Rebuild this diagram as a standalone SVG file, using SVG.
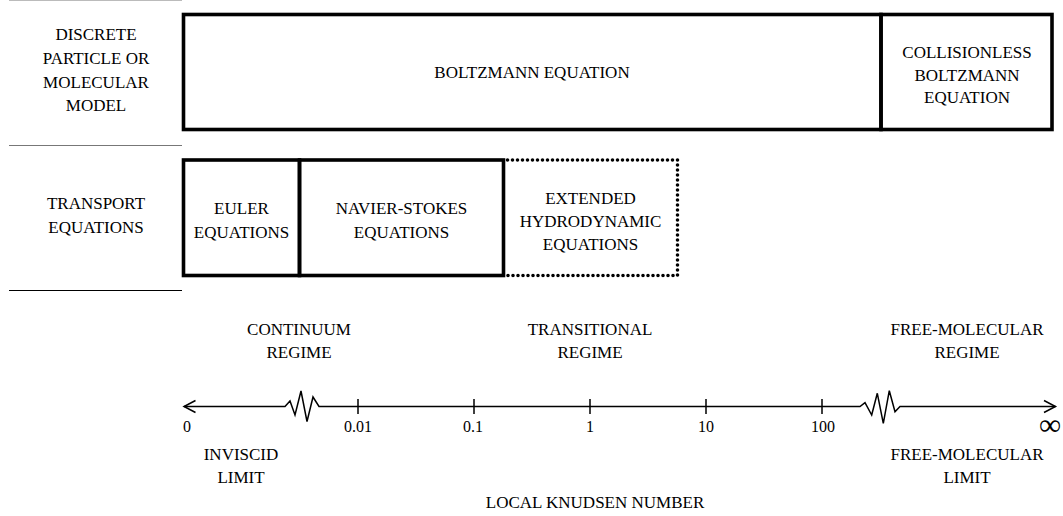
<svg xmlns="http://www.w3.org/2000/svg" width="1063" height="516" viewBox="0 0 1063 516">
<style>
text{font-family:"Liberation Serif","Times New Roman",serif;font-size:17px;fill:#000;text-anchor:middle}
.num{font-size:16px}
.box{fill:none;stroke:#000;stroke-width:3.6}
.dot{fill:none;stroke:#000;stroke-width:3.6;stroke-linecap:round;stroke-dasharray:0 5}
.ax{fill:none;stroke:#000;stroke-width:1.5}
</style>
<rect width="1063" height="516" fill="#fff"/>
<g id="row-labels">
<line x1="9" y1="0.5" x2="182" y2="0.5" stroke="#bbb" stroke-width="1"/>
<line x1="9" y1="145.5" x2="182" y2="145.5" stroke="#777" stroke-width="1.2"/>
<line x1="9" y1="290.5" x2="182" y2="290.5" stroke="#000" stroke-width="1.2"/>
<text x="96" y="40">DISCRETE</text>
<text x="96" y="64">PARTICLE OR</text>
<text x="96" y="87.5">MOLECULAR</text>
<text x="96" y="111">MODEL</text>
<text x="96" y="209">TRANSPORT</text>
<text x="96" y="232.5">EQUATIONS</text>
</g>
<g id="boltzmann">
<rect class="box" x="183.5" y="14.5" width="697.5" height="115"/>
<text x="532" y="78">BOLTZMANN EQUATION</text>
</g>
<g id="collisionless">
<rect class="box" x="881" y="14.5" width="171" height="115"/>
<text x="967" y="57.5">COLLISIONLESS</text>
<text x="967" y="80.5">BOLTZMANN</text>
<text x="967" y="103">EQUATION</text>
</g>
<g id="euler">
<rect class="box" x="183.5" y="160" width="116" height="115.5"/>
<text x="241.5" y="214">EULER</text>
<text x="241.5" y="237.5">EQUATIONS</text>
</g>
<g id="navier-stokes">
<rect class="box" x="299.5" y="160" width="204" height="115.5"/>
<text x="401.5" y="214">NAVIER-STOKES</text>
<text x="401.5" y="237.5">EQUATIONS</text>
</g>
<g id="extended">
<path class="dot" d="M507.5,160 H677.5 V275.5 H507.5"/>
<text x="590.5" y="203.5">EXTENDED</text>
<text x="590.5" y="227">HYDRODYNAMIC</text>
<text x="590.5" y="250">EQUATIONS</text>
</g>
<g id="regimes">
<text x="299" y="335">CONTINUUM</text>
<text x="299" y="357.5">REGIME</text>
<text x="590" y="335">TRANSITIONAL</text>
<text x="590" y="357.5">REGIME</text>
<text x="967" y="335">FREE-MOLECULAR</text>
<text x="967" y="357.5">REGIME</text>
</g>
<g id="connectors">
<path class="ax" d="M184,406.5 H285 L290,401 L295,415 L301,391 L307,421.5 L313,397 L319,406.5 H860 L865,402.7 L871.7,415 L877.3,393.3 L883.3,423.3 L889.3,390.7 L895,411.7 L900,406.5 H1055.5"/>
<path class="ax" d="M195.5,400.5 L184,406.5 L195.5,412.5"/>
<path class="ax" d="M1044,400.5 L1055.5,406.5 L1044,412.5"/>
<path class="ax" d="M358,399 V414 M474,399 V414 M590,399 V414 M706,399 V414 M822,399 V414"/>
</g>
<g id="axis-labels">
<text class="num" x="187" y="432">0</text>
<text class="num" x="358" y="432">0.01</text>
<text class="num" x="473" y="432">0.1</text>
<text class="num" x="590" y="432">1</text>
<text class="num" x="706" y="432">10</text>
<text class="num" x="823" y="432">100</text>
<text x="1050" y="435" style="font-size:31px">∞</text>
<text x="241" y="459.5">INVISCID</text>
<text x="241" y="482.5">LIMIT</text>
<text x="967" y="459.5">FREE-MOLECULAR</text>
<text x="967" y="482.5">LIMIT</text>
<text x="595" y="507.5">LOCAL KNUDSEN NUMBER</text>
</g>
</svg>
